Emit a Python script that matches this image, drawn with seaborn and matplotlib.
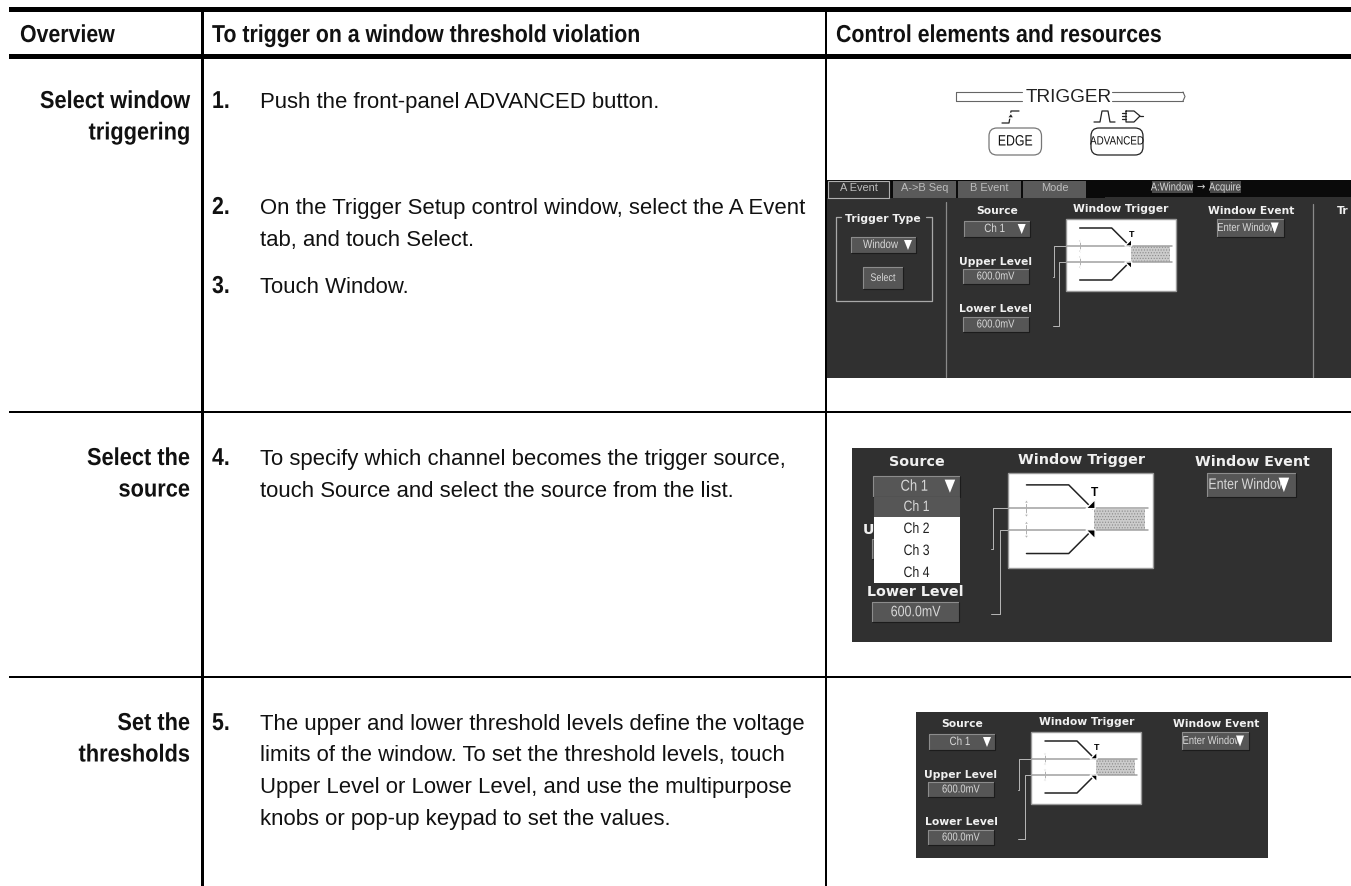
import matplotlib
matplotlib.use("Agg")
import matplotlib.pyplot as plt
import seaborn as sns
from matplotlib.patches import FancyBboxPatch, Polygon, Rectangle
from matplotlib.patheffects import AbstractPathEffect
from matplotlib.transforms import Affine2D

sns.set_theme(style="white")
plt.rcParams['font.family'] = ['Liberation Sans', 'DejaVu Sans']
plt.rcParams['hatch.linewidth'] = 0.5

HEAD = ['DejaVu Sans']

# table text
header_labels = ["Overview", "To trigger on a window threshold violation", "Control elements and resources"]
section_labels = [["Select window", "triggering"], ["Select the", "source"], ["Set the", "thresholds"]]
step_numbers = ["1.", "2.", "3.", "4.", "5."]
step_lines = [
    ["Push the front-panel ADVANCED button."],
    ["On the Trigger Setup control window, select the A Event", "tab, and touch Select."],
    ["Touch Window."],
    ["To specify which channel becomes the trigger source,", "touch Source and select the source from the list."],
    ["The upper and lower threshold levels define the voltage",
     "limits of the window. To set the threshold levels, touch",
     "Upper Level or Lower Level, and use the multipurpose",
     "knobs or pop-up keypad to set the values."],
]
tab_labels = ["A Event", "A->B Seq", "B Event", "Mode"]
channel_labels = ["Ch 1", "Ch 2", "Ch 3", "Ch 4"]

# trigger icon waveform, relative to the white box
wave_top_x = [14, 46, 64]
wave_top_y = [9, 9, 27]
wave_low_x = [14, 46, 64]
wave_low_y = [61, 61, 43]

PANEL = "#303030"
LIGHT = "#d8d8d8"
BTN = "#565656"
TITLE = "#f0f0f0"

fig = plt.figure(figsize=(13.51, 8.86), dpi=100)
ax = fig.add_axes([0, 0, 1, 1])
ax.set_xlim(0, 1351)
ax.set_ylim(886, 0)
ax.axis("off")
renderer = fig.canvas.get_renderer()


class Squeeze(AbstractPathEffect):
    # no narrow font is installed, so the glyphs get squeezed sideways
    def __init__(self, k, shift):
        super().__init__()
        self.k = k
        self.shift = shift

    def draw_path(self, renderer, gc, tpath, affine, rgbFace=None):
        new_affine = Affine2D().scale(self.k, 1) + affine + Affine2D().translate(self.shift, 0)
        renderer.draw_path(gc, tpath, new_affine, rgbFace)


def px(n):
    return n * 0.72


def rect(x0, y0, x1, y1, color, z=2, edge=None, lw=0.8, hatch=None):
    ax.add_patch(Rectangle((x0, y0), x1 - x0, y1 - y0, facecolor=color,
                           edgecolor=edge if edge else "none", linewidth=lw, zorder=z, hatch=hatch))


def line(xs, ys, color="black", lw=1.0, z=3):
    sns.lineplot(x=xs, y=ys, ax=ax, color=color, linewidth=lw, sort=False,
                 estimator=None, legend=False, zorder=z)


def txt(x, y, s, size, color="#111111", ha="left", va="baseline", weight="normal", family=None, z=6, k=None):
    t = ax.text(x, y, s, fontsize=px(size), color=color, ha=ha, va=va, weight=weight,
                family=family if family else plt.rcParams['font.family'], zorder=z, clip_on=True)
    if k:
        w = t.get_window_extent(renderer).width
        frac = {"left": 0, "center": 0.5, "right": 1}[ha]
        t.set_path_effects([Squeeze(k, (1 - k) * w * frac)])
    return t


def button(x0, y0, x1, y1, label, size, shift=0, z=4):
    rect(x0, y0, x1, y1, BTN, z)
    line([x0, x0, x1], [y1, y0, y0], "#8c8c8c", 0.8, z + 0.1)
    line([x0, x1, x1], [y1, y1, y0], "#1c1c1c", 0.8, z + 0.1)
    if label:
        txt((x0 + x1) / 2 + shift, (y0 + y1) / 2, label, size, LIGHT, "center", "center", z=z + 0.2, k=0.82)


def triangle(cx, cy, w, h, color="white", z=5):
    ax.add_patch(Polygon([(cx - w / 2, cy - h / 2), (cx + w / 2, cy - h / 2), (cx, cy + h / 2)],
                         closed=True, facecolor=color, edgecolor="none", zorder=z))


def trigger_block(ox, oy, s, title_size=10.8, list_open=False):
    def X(v):
        return ox + v * s

    def Y(v):
        return oy + v * s

    ts = title_size * s
    txt(X(-69), Y(-8), "Source", ts, TITLE, "center", "center", "bold", HEAD)
    if list_open:
        # the channel list hides all but the first letter
        txt(868, Y(43), "U", ts, TITLE, "center", "center", "bold", HEAD)
    else:
        txt(X(-70), Y(43), "Upper Level", ts, TITLE, "center", "center", "bold", HEAD)
    txt(X(-70), Y(90), "Lower Level", ts, TITLE, "center", "center", "bold", HEAD)
    txt(X(55.5), Y(-10), "Window Trigger", ts, TITLE, "center", "center", "bold", HEAD)
    txt(X(185.5), Y(-8), "Window Event", ts, TITLE, "center", "center", "bold", HEAD)

    button(X(-102), Y(2), X(-36), Y(18), "Ch 1", 12 * s, -2 * s)
    triangle(X(-44), Y(10), 8 * s, 10 * s)
    button(X(-103), Y(50), X(-37), Y(65), "" if list_open else "600.0mV", 11.5 * s)
    button(X(-103), Y(98), X(-37), Y(113), "600.0mV", 11.5 * s)
    button(X(151), Y(0), X(218), Y(18), "Enter Window", 11.5 * s, -3.5 * s)
    triangle(X(209), Y(9), 8 * s, 11 * s)

    # bracket leads
    line([X(0), X(-11.7), X(-11.7), X(-13)], [Y(26.7), Y(26.7), Y(57.7), Y(57.7)], "#b8b8b8", 0.7)
    line([X(0), X(-6.3), X(-6.3), X(-13)], [Y(43.3), Y(43.3), Y(106.7), Y(106.7)], "#b8b8b8", 0.7)

    # white trigger picture
    rect(X(0), Y(0), X(110), Y(72), "white", 3, "#9a9a9a", 1.0)
    rect(X(65), Y(27), X(104), Y(43), "#cccccc", 3.1, edge="#8a8a8a", lw=0, hatch="......")
    line([X(1), X(106)], [Y(26.7), Y(26.7)], "#a0a0a0", 1.1, 3.2)
    line([X(1), X(106)], [Y(43.3), Y(43.3)], "#a0a0a0", 1.1, 3.2)
    line([X(v) for v in wave_top_x], [Y(v) for v in wave_top_y], "#222222", 1.1, 3.3)
    line([X(v) for v in wave_low_x], [Y(v) for v in wave_low_y], "#222222", 1.1, 3.3)
    ax.add_patch(Polygon([(X(66), Y(27)), (X(59), Y(27)), (X(66), Y(20))], closed=True, facecolor="black", zorder=3.4))
    ax.add_patch(Polygon([(X(66), Y(43)), (X(59), Y(43)), (X(66), Y(50))], closed=True, facecolor="black", zorder=3.4))
    txt(X(65.5), Y(15), "T", 9 * s, "black", "center", "center", "bold", z=3.5)
    for c in (27, 43):
        line([X(14), X(14)], [Y(c - 6), Y(c + 6)], "#b0b0b0", 0.7, 3.3)
        ax.add_patch(Polygon([(X(12), Y(c - 4)), (X(16), Y(c - 4)), (X(14), Y(c - 7))], closed=True,
                             facecolor="#b0b0b0", zorder=3.3))
        ax.add_patch(Polygon([(X(12), Y(c + 4)), (X(16), Y(c + 4)), (X(14), Y(c + 7))], closed=True,
                             facecolor="#b0b0b0", zorder=3.3))


# table rules
rect(9, 7, 1351, 12, "black")
rect(9, 54, 1351, 59, "black")
rect(9, 411, 1351, 413, "black")
rect(9, 676, 1351, 678, "black")
rect(201, 7, 203.5, 886, "black")
rect(825, 7, 827, 886, "black")

# header
txt(20, 42, header_labels[0], 24.5, weight="bold", k=0.87)
txt(212, 42, header_labels[1], 24.5, weight="bold", k=0.87)
txt(836, 42, header_labels[2], 24.5, weight="bold", k=0.87)

# overview column
section_base = [108, 465, 730]
for lines, base in zip(section_labels, section_base):
    for i, s in enumerate(lines):
        txt(190, base + i * 31.5, s, 24.5, ha="right", weight="bold", k=0.89)

# steps
step_base = [108, 214, 293, 465, 730]
for num, lines, base in zip(step_numbers, step_lines, step_base):
    txt(212, base, num, 24.5, weight="bold", k=0.87)
    for i, s in enumerate(lines):
        txt(260, base + i * 31.5, s, 22.1)

# front panel graphic
for x0, x1 in ((956, 1022), (1112, 1183)):
    line([x0, x1], [92, 92], "#666666", 0.8)
    line([x0, x1], [101, 101], "#666666", 0.8)
line([956, 956], [92, 101], "#666666", 0.8)
line([1183, 1185, 1183], [92, 96.5, 101], "#666666", 0.8)
txt(1069, 97, "TRIGGER", 19, "#222222", "center", "center")
for x0, x1, s, fs, ec in ((989, 1041.5, "EDGE", 15, "#777777"), (1091, 1143, "ADVANCED", 12, "#222222")):
    ax.add_patch(FancyBboxPatch((x0 + 5, 133), x1 - x0 - 10, 17, boxstyle="round,pad=5,rounding_size=8",
                                facecolor="white", edgecolor=ec, linewidth=0.9, zorder=3))
    txt((x0 + x1) / 2, 141.5, s, fs, "#111111", "center", "center", k=0.82)
line([1002, 1009, 1011, 1019], [123, 123, 111, 111], "#222222", 0.9)
ax.add_patch(Polygon([(1007, 118), (1014, 118), (1011, 113)], closed=True, facecolor="#222222", zorder=3))
line([1094, 1100, 1102, 1108, 1110, 1115], [122, 122, 111, 111, 122, 122], "#222222", 0.9)
line([1126, 1134, 1140, 1134, 1126, 1126], [111, 111, 116, 122, 122, 111], "#222222", 0.9)
line([1140, 1143], [116, 116], "#222222", 0.9)
for gate_y in (113, 116, 119):
    line([1122, 1126], [gate_y, gate_y], "#222222", 0.9)

# screen 1
rect(827, 180, 1351, 378, PANEL, 1)
rect(827, 180, 1351, 197, "#0a0a0a", 1.5)
rect(827, 197, 1105, 198, "#0a0a0a", 1.5)
tab_edges = [(828, 889), (893, 956), (958, 1021), (1023, 1086)]
for (x0, x1), s in zip(tab_edges, tab_labels):
    rect(x0, 181, x1, 198, PANEL if s == "A Event" else "#5a5a5a", 2, "#b0b0b0" if s == "A Event" else None)
    txt((x0 + x1) / 2, 188, s, 11, "#bdbdbd", "center", "center")
rect(1152, 181, 1193, 193, "#4a4a4a", 2)
rect(1210, 181, 1241, 193, "#4a4a4a", 2)
txt(1172, 187.5, "A:Window", 11.5, LIGHT, "center", "center", k=0.82)
txt(1201, 187.5, "\u2192", 10, LIGHT, "center", "center", family=HEAD)
txt(1225, 187.5, "Acquire", 11.5, LIGHT, "center", "center", k=0.82)
line([946, 946], [202, 377], "#8a8a8a", 0.9)
line([1313, 1313], [204, 377], "#8a8a8a", 0.9)
line([841, 836, 836, 932, 932, 926], [217, 217, 301, 301, 217, 217], "#a8a8a8", 0.9)
txt(883, 219, "Trigger Type", 10.8, TITLE, "center", "center", "bold", HEAD)
button(851, 237, 916, 253, "Window", 12, -3)
triangle(908, 245, 8, 10)
button(863, 267, 903, 289, "Select", 11)
txt(1337, 211, "Tr", 10.8, TITLE, "left", "center", "bold", HEAD)
trigger_block(1065.7, 219, 1.0)

# screen 2, with the channel list open
rect(852, 448, 1332, 642, PANEL, 1)
trigger_block(1008, 473, 1.32, list_open=True)
rect(874, 497, 960, 583, "white", 7)
rect(874, 497, 960, 517, BTN, 7.1)
for i, s in enumerate(channel_labels):
    txt(916.5, 507 + i * 22, s, 15, LIGHT if i == 0 else "#222222", "center", "center", z=7.3, k=0.82)

# screen 3
rect(916, 712, 1268, 858, PANEL, 1)
trigger_block(1031, 732, 1.0)

fig.savefig("out.png", dpi=100, facecolor="white")
